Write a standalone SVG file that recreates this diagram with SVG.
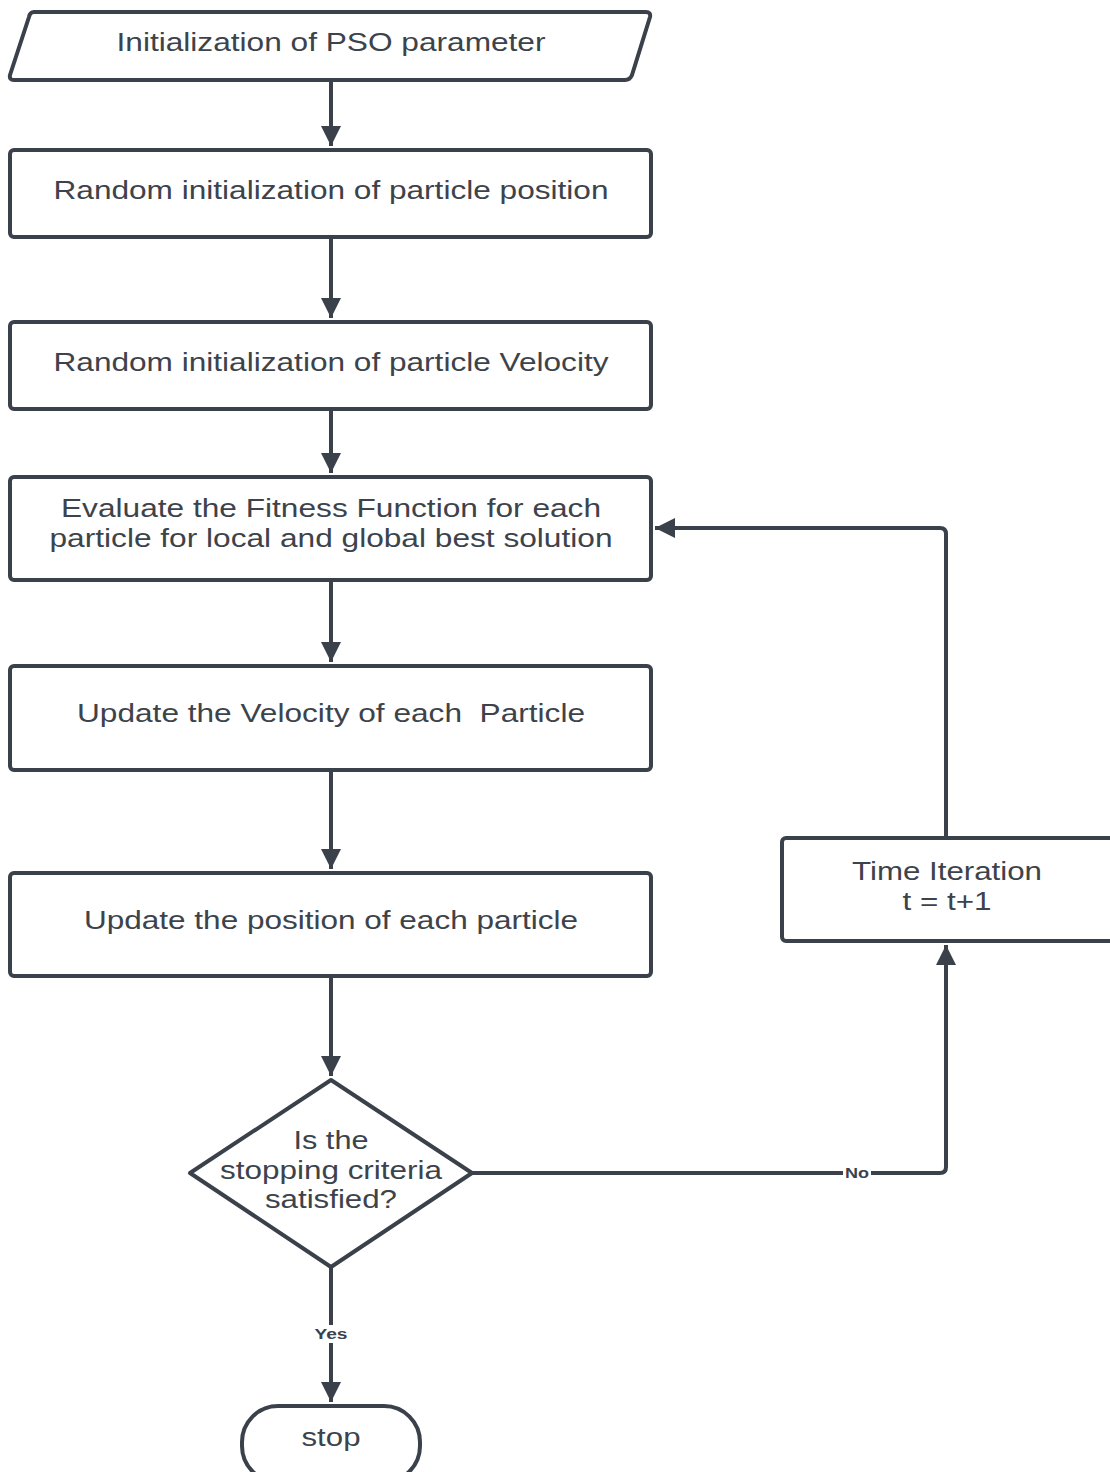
<svg xmlns="http://www.w3.org/2000/svg" width="1110" height="1472" viewBox="0 0 1110 1472">
<defs>
<marker id="ah" viewBox="0 0 10 10" refX="10" refY="5" markerWidth="5" markerHeight="5" markerUnits="strokeWidth" orient="auto">
<path d="M0,0 L10,5 L0,10 Z" fill="#3a414b"/>
</marker>
<style>
.shape{fill:#ffffff;stroke:#3a414b;stroke-width:4;stroke-linejoin:round}
.t{font-family:"Liberation Sans",Arial,sans-serif;font-size:25px;fill:#3d434b;text-anchor:middle;white-space:pre}
.lbl{font-family:"Liberation Sans",Arial,sans-serif;font-size:14px;font-weight:bold;fill:#3a414b;text-anchor:middle}
.c{fill:none;stroke:#3a414b;stroke-width:4;stroke-linejoin:round}
</style>
</defs>
<rect width="1110" height="1472" fill="#ffffff"/>
<g id="connectors">
<path class="c" d="M331,80 V146" marker-end="url(#ah)"/>
<path class="c" d="M331,237 V318" marker-end="url(#ah)"/>
<path class="c" d="M331,409 V473" marker-end="url(#ah)"/>
<path class="c" d="M331,580 V662" marker-end="url(#ah)"/>
<path class="c" d="M331,770 V869" marker-end="url(#ah)"/>
<path class="c" d="M331,976 V1076" marker-end="url(#ah)"/>
<path class="c" d="M331,1267 V1402" marker-end="url(#ah)"/>
<path class="c" d="M472,1173 H940 Q946,1173 946,1167 V945" marker-end="url(#ah)"/>
<path class="c" d="M946,838 V534 Q946,528 940,528 H655" marker-end="url(#ah)"/>
<rect x="312" y="1325" width="38" height="18" fill="#ffffff"/>
<text class="lbl" x="331" y="1339" textLength="33" lengthAdjust="spacingAndGlyphs">Yes</text>
<rect x="843" y="1164" width="28" height="18" fill="#ffffff"/>
<text class="lbl" x="857" y="1178" textLength="24" lengthAdjust="spacingAndGlyphs">No</text>
</g>
<g id="n1">
<path class="shape" d="M34,12 H646 Q651,12 650,17 L632,75 Q630,80 625,80 H14 Q9,80 10,75 L29,17 Q30,12 34,12 Z"/>
<text class="t" x="331" y="51" textLength="429" lengthAdjust="spacingAndGlyphs">Initialization of PSO parameter</text>
</g>
<g id="n2">
<rect class="shape" x="10" y="150" width="641" height="87" rx="4"/>
<text class="t" x="331" y="199" textLength="555" lengthAdjust="spacingAndGlyphs">Random initialization of particle position</text>
</g>
<g id="n3">
<rect class="shape" x="10" y="322" width="641" height="87" rx="4"/>
<text class="t" x="331" y="371" textLength="555" lengthAdjust="spacingAndGlyphs">Random initialization of particle Velocity</text>
</g>
<g id="n4">
<rect class="shape" x="10" y="477" width="641" height="103" rx="4"/>
<text class="t" x="331" y="517" textLength="540" lengthAdjust="spacingAndGlyphs">Evaluate the Fitness Function for each</text>
<text class="t" x="331" y="547" textLength="563" lengthAdjust="spacingAndGlyphs">particle for local and global best solution</text>
</g>
<g id="n5">
<rect class="shape" x="10" y="666" width="641" height="104" rx="4"/>
<text class="t" x="331" y="722" textLength="508" lengthAdjust="spacingAndGlyphs">Update the Velocity of each  Particle</text>
</g>
<g id="n6">
<rect class="shape" x="10" y="873" width="641" height="103" rx="4"/>
<text class="t" x="331" y="929" textLength="494" lengthAdjust="spacingAndGlyphs">Update the position of each particle</text>
</g>
<g id="n7">
<path class="shape" d="M331,1080 L472,1173 L331,1267 L190,1173 Z"/>
<text class="t" x="331" y="1149" textLength="75" lengthAdjust="spacingAndGlyphs">Is the</text>
<text class="t" x="331" y="1179" textLength="222" lengthAdjust="spacingAndGlyphs">stopping criteria</text>
<text class="t" x="331" y="1208" textLength="132" lengthAdjust="spacingAndGlyphs">satisfied?</text>
</g>
<g id="n8">
<rect class="shape" x="782" y="838" width="340" height="103" rx="4"/>
<text class="t" x="947" y="880" textLength="190" lengthAdjust="spacingAndGlyphs">Time Iteration</text>
<text class="t" x="947" y="910" textLength="89" lengthAdjust="spacingAndGlyphs">t = t+1</text>
</g>
<g id="n9">
<rect class="shape" x="242" y="1406" width="178" height="76" rx="36"/>
<text class="t" x="331" y="1446" textLength="59" lengthAdjust="spacingAndGlyphs">stop</text>
</g>
</svg>
